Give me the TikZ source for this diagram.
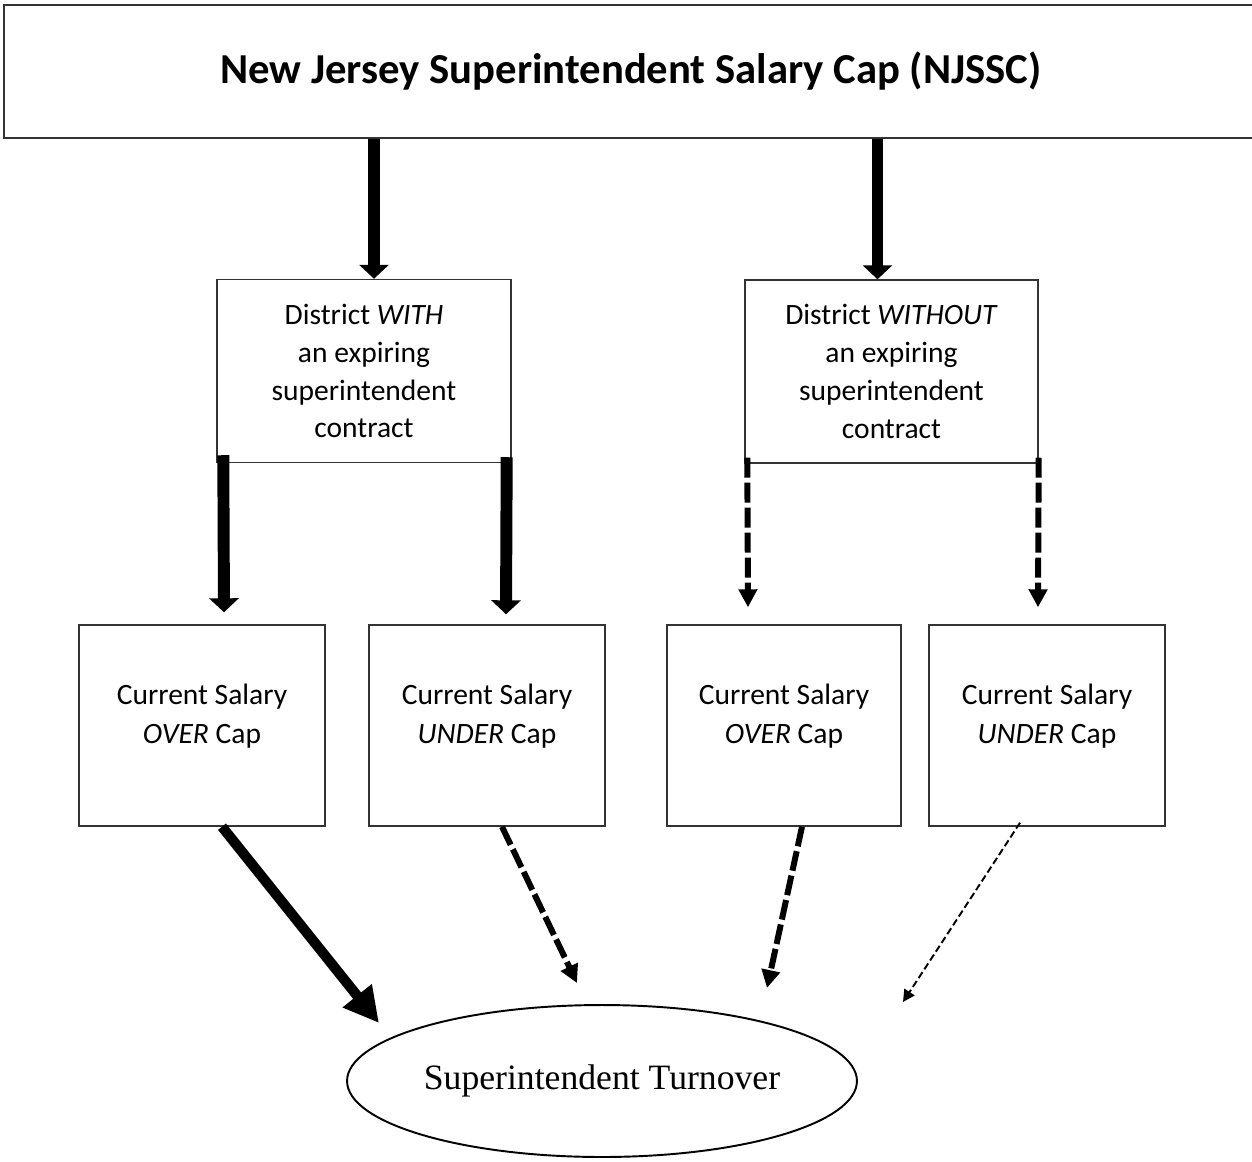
\documentclass[tikz,border=0pt]{standalone}
\usepackage{fontspec}
\setmainfont{Carlito}
\newfontfamily\turnfont{Liberation Serif}
\usetikzlibrary{shapes.geometric,arrows.meta,calc}

\tikzset{
  box/.style={draw=black!80, line width=0.85pt, inner sep=0pt, align=center,
    font=\fontsize{16.8}{21.6}\selectfont},
  boxtext/.style={inner sep=0pt, align=center, font=\fontsize{16.8}{22.2}\selectfont},
  heavy/.style={line width=6.8pt, -{Triangle[length=0.28cm,width=0.58cm]}},
  bigheavy/.style={line width=5.8pt, -{Triangle[length=0.7cm,width=0.7cm]}},
  dashmid/.style={line width=3.4pt, dash pattern=on 0.4cm off 0.1cm,
    -{Triangle[length=0.36cm,width=0.36cm]}},
  dashthin/.style={line width=1.1pt, dash pattern=on 0.14cm off 0.07cm,
    -{Triangle[length=0.24cm,width=0.24cm]}}
}

\begin{document}
\begin{tikzpicture}[x=0.02cm, y=-0.02cm]
\useasboundingbox (0,0) rectangle (1252,1161);

% title bar, runs off the right edge
\node[box, minimum width=25.08cm, minimum height=2.66cm,
  font=\bfseries\fontsize{24.3}{28}\selectfont] (njssc) at (631,71.5)
  {New Jersey Superintendent Salary Cap (NJSSC)};

% district boxes
\node[box, minimum width=5.88cm, minimum height=3.66cm] (with) at (364,371)
  {District \textit{WITH}\\ an expiring\\ superintendent\\ contract};
\node[box, minimum width=5.86cm, minimum height=3.66cm] (without) at (891.5,371.5)
  {District \textit{WITHOUT}\\ an expiring\\ superintendent\\ contract};

% salary boxes
\node[box, minimum width=4.92cm, minimum height=4.02cm] (overA) at (202,725.5) {};
\node[box, minimum width=4.72cm, minimum height=4.02cm] (underA) at (487,725.5) {};
\node[box, minimum width=4.68cm, minimum height=4.02cm] (overB) at (784,725.5) {};
\node[box, minimum width=4.72cm, minimum height=4.02cm] (underB) at (1047,725.5) {};
\node[boxtext] (overAtxt) at ($(overA)+(0,-9)$) {Current Salary\\ \textit{OVER} Cap};
\node[boxtext] (underAtxt) at ($(underA)+(0,-9)$) {Current Salary\\ \textit{UNDER} Cap};
\node[boxtext] (overBtxt) at ($(overB)+(0,-9)$) {Current Salary\\ \textit{OVER} Cap};
\node[boxtext] (underBtxt) at ($(underB)+(0,-9)$) {Current Salary\\ \textit{UNDER} Cap};

% outcome
\node[draw, ellipse, line width=1.1pt, inner sep=0pt, minimum width=10.2cm,
  minimum height=3.04cm, font=\turnfont\fontsize{20.3}{24}\selectfont] (turn) at (602,1081)
  {Superintendent Turnover};

% cap -> districts
\draw[heavy] ($(njssc.south -| with.north)+(10,0)$) -- ($(with.north)+(10,0)$);
\draw[heavy] ($(njssc.south -| without.north)+(-14,0)$) -- ($(without.north)+(-14,0)$);

% districts -> salary position
\draw[heavy] ($(with.south west)+(7,-8)$) -- ($(overA.north)+(22,-12)$);
\draw[heavy] ($(with.south east)+(-5,-6)$) -- ($(underA.north)+(19,-10)$);
\draw[dashmid] ($(without.south west)+(3,-6)$) -- ($(overB.north)+(-36,-17)$);
\draw[dashmid] ($(without.south east)+(0,-6)$) -- ($(underB.north)+(-9,-17)$);

% salary position -> turnover
\draw[bigheavy] ($(overA.south)+(20,0)$) -- ($(turn)+(-223,-58)$);
\draw[dashmid] ($(underA.south)+(15,0)$) -- ($(turn)+(-25,-98)$);
\draw[dashmid] ($(overB.south)+(18,0)$) -- ($(turn)+(165,-93)$);
\draw[dashthin] ($(underB.south)+(-27,-4)$) -- ($(turn)+(301,-79)$);
\end{tikzpicture}
\end{document}
